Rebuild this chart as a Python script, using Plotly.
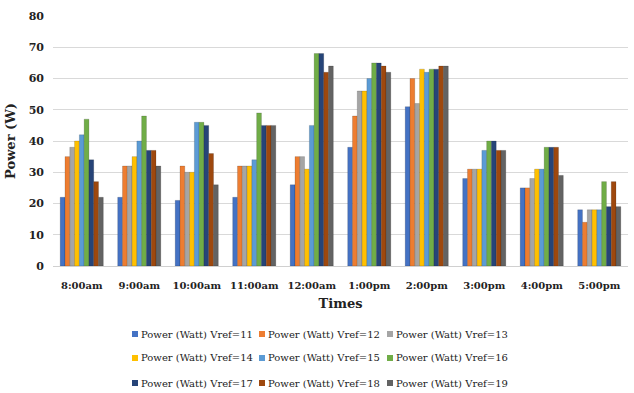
import plotly.graph_objects as go

times = ["8:00am", "9:00am", "10:00am", "11:00am", "12:00am",
         "1:00pm", "2:00pm", "3:00pm", "4:00pm", "5:00pm"]

vref_11 = [22, 22, 21, 22, 26, 38, 51, 28, 25, 18]
vref_12 = [35, 32, 32, 32, 35, 48, 60, 31, 25, 14]
vref_13 = [38, 32, 30, 32, 35, 56, 52, 31, 28, 18]
vref_14 = [40, 35, 30, 32, 31, 56, 63, 31, 31, 18]
vref_15 = [42, 40, 46, 34, 45, 60, 62, 37, 31, 18]
vref_16 = [47, 48, 46, 49, 68, 65, 63, 40, 38, 27]
vref_17 = [34, 37, 45, 45, 68, 65, 63, 40, 38, 19]
vref_18 = [27, 37, 36, 45, 62, 64, 64, 37, 38, 27]
vref_19 = [22, 32, 26, 45, 64, 62, 64, 37, 29, 19]

series_names = [f"Power (Watt) Vref={v}" for v in range(11, 20)]
series_values = [vref_11, vref_12, vref_13, vref_14, vref_15,
                 vref_16, vref_17, vref_18, vref_19]
colors = ["#4472C4", "#ED7D31", "#A5A5A5", "#FFC000", "#5B9BD5",
          "#70AD47", "#264478", "#9E480E", "#636363"]

FONT = "DejaVu Serif"
TEXT = "#222222"

W, H = 634, 393
L, R, T, B = 53, 6, 16, 127
PW, PH = W - L - R, H - T - B


def px_x(px):
    return (px - L) / PW


def px_y(py):
    return (H - B - py) / PH


fig = go.Figure()
for name, vals, col in zip(series_names, series_values, colors):
    fig.add_trace(go.Bar(
        x=times, y=vals, name=name,
        marker=dict(color=col, line=dict(color="rgba(0,0,0,0.25)", width=0.6)),
        showlegend=False,
    ))

# Legend: 3 columns x 3 rows of small squares with labels beneath the chart
col_x = [132, 259, 387]
row_y = [334, 358, 383]
shapes, annotations = [], []
for i, (name, col) in enumerate(zip(series_names, colors)):
    cx, cy = col_x[i % 3], row_y[i // 3]
    shapes.append(dict(
        type="rect", xref="paper", yref="paper",
        x0=px_x(cx), x1=px_x(cx + 6), y0=px_y(cy + 3), y1=px_y(cy - 3),
        fillcolor=col, line=dict(width=0),
    ))
    annotations.append(dict(
        text=name, xref="paper", yref="paper", x=px_x(cx + 7), y=px_y(cy),
        xanchor="left", yanchor="middle", showarrow=False,
        font=dict(family=FONT, size=10, color=TEXT),
    ))

fig.update_layout(
    width=W, height=H,
    margin=dict(l=L, r=R, t=T, b=B, autoexpand=False),
    paper_bgcolor="white", plot_bgcolor="white",
    barmode="group", bargap=0.25, bargroupgap=0,
    font=dict(family=FONT, color=TEXT),
    showlegend=False,
    shapes=shapes, annotations=annotations,
    xaxis=dict(
        showgrid=False, showline=True, linecolor="#d0d0d0", linewidth=1,
        ticks="", ticklabelstandoff=10,
        tickfont=dict(family=FONT, size=10, color=TEXT, weight="bold"),
        title=dict(text="<b>Times</b>", font=dict(family=FONT, size=13, color=TEXT),
                   standoff=8),
    ),
    yaxis=dict(
        range=[0, 80], dtick=10, showgrid=True, gridcolor="#d9d9d9", gridwidth=1,
        zeroline=False, showline=False, ticks="", ticklabelstandoff=8,
        tickfont=dict(family=FONT, size=11, color=TEXT, weight="bold"),
        title=dict(text="<b>Power (W)</b>", font=dict(family=FONT, size=13, color=TEXT),
                   standoff=10),
    ),
)

fig.write_html("out.html")
